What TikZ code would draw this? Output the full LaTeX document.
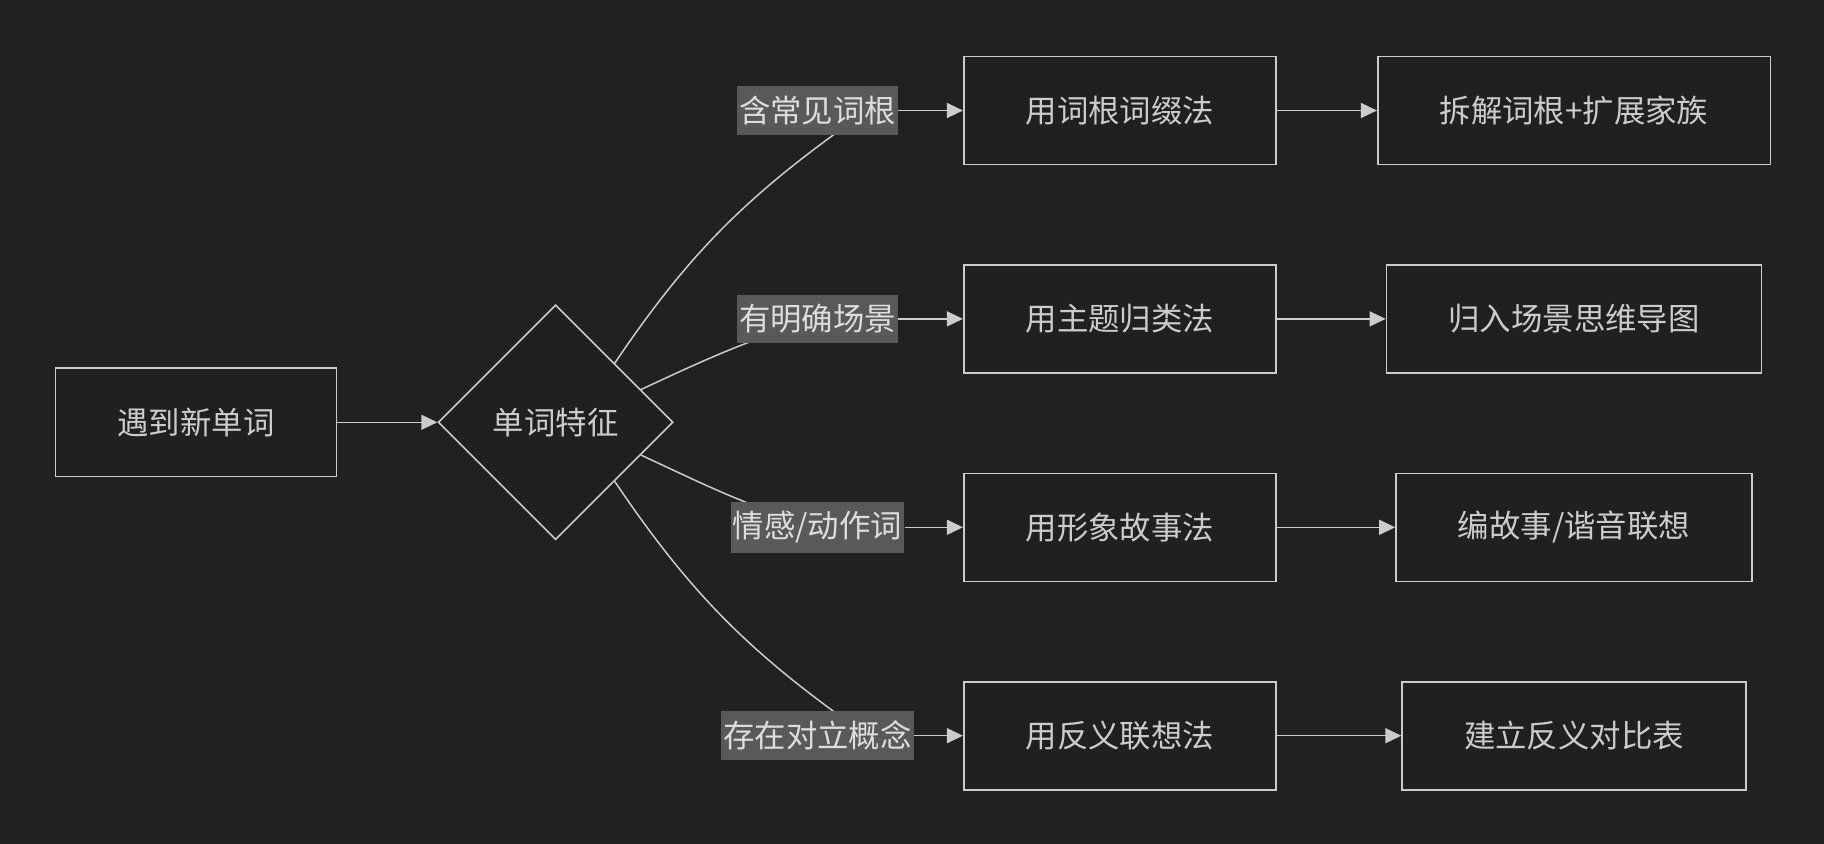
\documentclass[tikz,border=0pt]{standalone}
\usepackage{fontspec}
\newfontfamily\cjk{Noto Sans CJK SC}
\usepackage{tikz}
\usetikzlibrary{arrows.meta,positioning,shapes.geometric}
\definecolor{darkbg}{HTML}{212121}
\definecolor{nodefill}{HTML}{1F2020}
\definecolor{linegray}{HTML}{CCCCCC}
\definecolor{textgray}{HTML}{CCCCCC}
\definecolor{labelgray}{HTML}{595959}
\definecolor{labeltext}{HTML}{DDDDDD}
\tikzset{
  stepnode/.style={draw=linegray, fill=nodefill, line width=0.8pt, text=textgray, font=\cjk\fontsize{15.7}{19}\selectfont, inner xsep=31pt, minimum height=54pt},
  decisionnode/.style={diamond, aspect=1, draw=linegray, fill=nodefill, line width=0.8pt, text=textgray, font=\cjk\fontsize{15.7}{19}\selectfont, minimum size=117.5pt, inner sep=0pt},
  condlabel/.style={fill=labelgray, text=labeltext, font=\cjk\fontsize{15.7}{19}\selectfont, inner xsep=1pt, inner ysep=4.8pt},
  edge/.style={-{Triangle[length=8pt, width=7.5pt]}, line width=0.75pt, draw=linegray},
  curveedge/.style={line width=0.75pt, draw=linegray}
}

\begin{document}
\begin{tikzpicture}[node distance=49.4pt]
  \fill[darkbg] (0,0) rectangle (912pt,-422pt);
  \node[stepnode] (new) at (98pt,-211.15pt) {遇到新单词};
  \node[decisionnode, right=50pt of new] (feat) {单词特征};
  \node[stepnode, anchor=west] (m2) at ([xshift=144.5pt, yshift=51.7pt]feat.east) {用主题归类法};
  \node[stepnode, above=of m2] (m1) {用词根词缀法};
  \node[stepnode, below=of m2] (m3) {用形象故事法};
  \node[stepnode, below=of m3] (m4) {用反义联想法};
  \node[stepnode, right=50pt of m1] (r1) {拆解词根+扩展家族};
  \node[stepnode, below=of r1] (r2) {归入场景思维导图};
  \node[stepnode, below=of r2] (r3) {编故事/谐音联想};
  \node[stepnode, below=of r3] (r4) {建立反义对比表};
  % where the condition labels sit
  \foreach \i in {1,...,4}
    \coordinate (c\i) at ([xshift=-72.7pt]m\i.west);
  \coordinate (e1) at ([xshift=25pt]c1);
  \coordinate (e4) at ([xshift=25pt]c4);
  \draw[curveedge] (feat.north east) to[out=56, in=215] (e1);
  \draw[curveedge] (feat.21.5) to[out=25, in=197] (c2);
  \draw[curveedge] (feat.-21.5) to[out=-25, in=163] (c3);
  \draw[curveedge] (feat.south east) to[out=-56, in=145] (e4);
  \node[condlabel] (l1) at (c1) {含常见词根};
  \node[condlabel] (l2) at (c2) {有明确场景};
  \node[condlabel] (l3) at (c3) {情感/动作词};
  \node[condlabel] (l4) at (c4) {存在对立概念};
  \draw[edge] (new) -- (feat);
  \foreach \i in {1,...,4} {
    \draw[edge] (l\i) -- (m\i);
    \draw[edge] (m\i) -- (r\i);
  }
\end{tikzpicture}
\end{document}
